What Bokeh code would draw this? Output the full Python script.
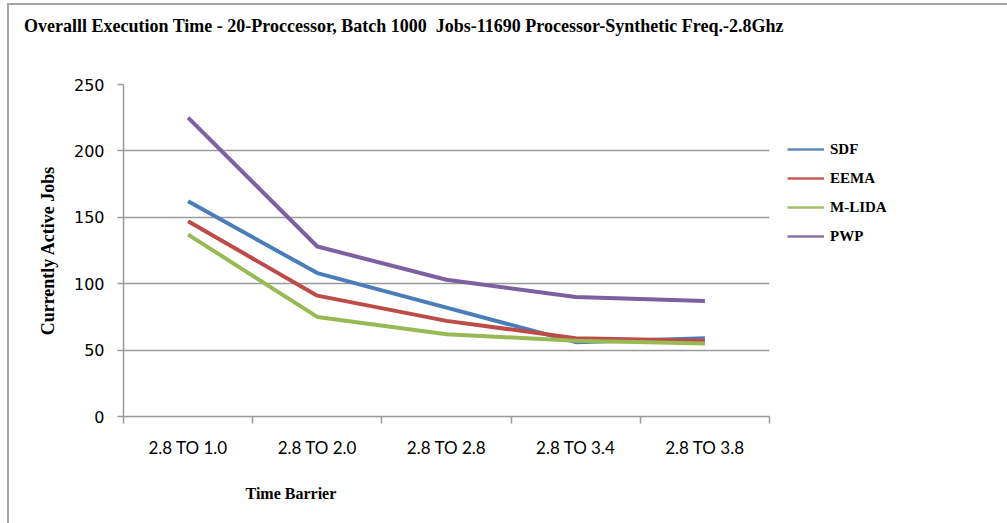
from bokeh.plotting import figure
from bokeh.layouts import column
from bokeh.models import Range1d, FixedTicker, Legend, LegendItem, Title, Div
from bokeh.embed import file_html
from bokeh.resources import INLINE

categories = ["2.8 TO 1.0", "2.8 TO 2.0", "2.8 TO 2.8", "2.8 TO 3.4", "2.8 TO 3.8"]
sdf = [162, 108, 82, 56, 59]
eema = [147, 91, 72, 59, 57]
mlida = [137, 75, 62, 57, 55]
pwp = [225, 128, 103, 90, 87]
series_names = ["SDF", "EEMA", "M-LIDA", "PWP"]
series_colors = ["#4A7EBB", "#BE4B48", "#98B954", "#7D60A0"]
y_ticks = [0, 50, 100, 150, 200, 250]

title_text = "Overalll Execution Time - 20-Proccessor, Batch 1000  Jobs-11690 Processor-Synthetic Freq.-2.8Ghz"

n = len(categories)
xs = [i + 0.5 for i in range(n)]

SX, SY = 9, 5     # offset caused by the outer border/margin
DIV_H = 44        # height of the title strip

title_div = Div(
    text=('<div style="font-family: \'Liberation Serif\'; font-weight: bold; font-size: 18px; '
          'line-height: 20px; color: #000; white-space: pre; padding: 11px 0 0 15px;">'
          + title_text + '</div>'),
    width=1007 - SX, height=DIV_H, margin=0)

p = figure(frame_width=646, frame_height=332, output_backend="svg", toolbar_location=None,
           x_range=Range1d(0, n), y_range=Range1d(0, 250),
           min_border_left=123 - SX, min_border_right=238, min_border_top=84 - SY - DIV_H,
           min_border_bottom=107, margin=0)
p.outline_line_color = None
p.title = None

grid_color = "#9A9A9A"
# x axis
p.xaxis.ticker = FixedTicker(ticks=xs, minor_ticks=list(range(n + 1)))
p.xaxis.major_label_overrides = {x: c for x, c in zip(xs, categories)}
p.xaxis.major_tick_out = 0
p.xaxis.major_tick_in = 0
p.xaxis.minor_tick_out = 7
p.xaxis.minor_tick_in = 0
p.xaxis.minor_tick_line_color = grid_color
p.xaxis.minor_tick_line_width = 1.5
p.xaxis.axis_line_color = grid_color
p.xaxis.axis_line_width = 1.5
p.xaxis.major_label_text_font = "Lato"
p.xaxis.major_label_text_font_size = "17px"
p.xaxis.major_label_text_color = "#000000"
p.xaxis.major_label_standoff = 13
p.xgrid.visible = False

# y axis
p.yaxis.ticker = FixedTicker(ticks=y_ticks)
p.yaxis.major_tick_out = 6
p.yaxis.major_tick_in = 0
p.yaxis.minor_tick_line_color = None
p.yaxis.major_tick_line_color = grid_color
p.yaxis.major_tick_line_width = 1.5
p.yaxis.axis_line_color = grid_color
p.yaxis.axis_line_width = 1.5
p.yaxis.major_label_text_font = "DejaVu Sans"
p.yaxis.major_label_text_font_size = "16px"
p.yaxis.major_label_text_color = "#000000"
p.yaxis.major_label_standoff = 13
p.yaxis.axis_label = "Currently Active Jobs"
p.yaxis.axis_label_text_font = "Liberation Serif"
p.yaxis.axis_label_text_font_style = "bold"
p.yaxis.axis_label_text_font_size = "18px"
p.yaxis.axis_label_text_color = "#000000"
p.yaxis.axis_label_standoff = 13
p.ygrid.ticker = FixedTicker(ticks=y_ticks)
p.ygrid.grid_line_color = grid_color
p.ygrid.grid_line_width = 1.5

nan_vals = [float("nan")] * n
items = []
for name, color, vals in zip(series_names, series_colors, [sdf, eema, mlida, pwp]):
    p.line(xs, vals, line_color=color, line_width=4)
    # thinner legend key (draws nothing in the plot area)
    proxy = p.line(xs, nan_vals, line_color=color, line_width=2.5, line_alpha=0.9)
    items.append(LegendItem(label=name, renderers=[proxy], index=0))

legend = Legend(items=items, location=(18, 170), border_line_alpha=0,
                background_fill_alpha=0, padding=0, margin=0, spacing=9,
                glyph_width=37, glyph_height=20, label_height=20, label_standoff=6,
                label_text_font="Liberation Serif", label_text_font_style="bold",
                label_text_font_size="15px", label_text_color="#000000")
p.add_layout(legend, "right")

p.add_layout(Title(text="Time Barrier", align="left", offset=245 - 123,
                   text_font="Liberation Serif", text_font_style="bold",
                   text_font_size="16px", text_color="#000000", standoff=44), "below")

layout = column(title_div, p, spacing=0,
                styles={"border-left": "2px solid #A6A6A6", "border-top": "2px solid #A6A6A6",
                        "margin-left": "7px", "margin-top": "3px"})

open("out.html", "w").write(file_html(layout, INLINE))
